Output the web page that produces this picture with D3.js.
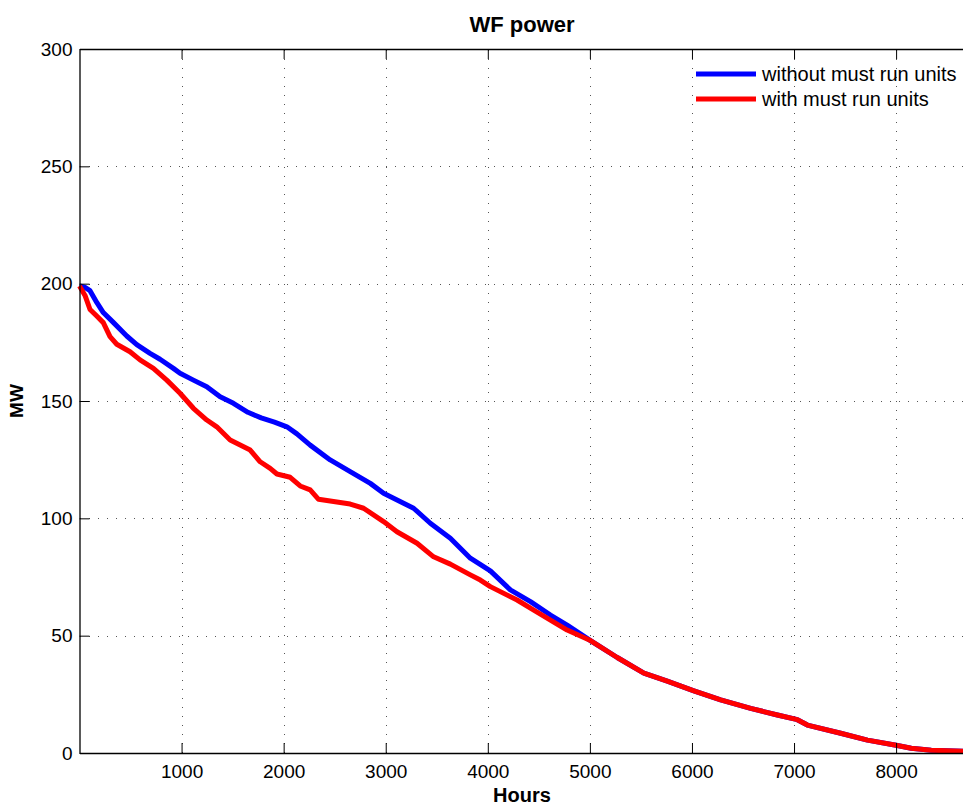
<!DOCTYPE html>
<html>
<head>
<meta charset="utf-8">
<script src="https://cdn.jsdelivr.net/npm/d3@7"></script>
<style>
    body { margin: 0; background: #fff; }
    svg { display: block; font-family: "Liberation Sans", Arial, Helvetica, sans-serif; }
</style>
</head>
<body>
<div id="chart"></div>
<script>
const width = 963;
const height = 806;

// Hours / MW
const withoutHours = [0, 50, 103, 169, 233, 331, 463, 561, 691, 789, 920, 985, 1116, 1247, 1378, 1508, 1650, 1780, 1910, 2032, 2130, 2260, 2456, 2652, 2849, 2979, 3175, 3273, 3437, 3633, 3829, 4025, 4221, 4418, 4614, 4777];
const withoutMW = [199, 198.5, 197, 192, 187.7, 183.5, 177.7, 174, 170.3, 167.8, 163.9, 161.8, 158.9, 156.1, 151.8, 149.0, 145.2, 142.8, 141.0, 139.0, 136.0, 131.2, 124.9, 119.9, 114.9, 110.7, 106.4, 104.3, 97.9, 91.5, 83.0, 77.6, 69.5, 64.5, 58.8, 54.5];

const withHours = [0, 54, 103, 169, 233, 299, 365, 495, 593, 724, 855, 985, 1116, 1247, 1345, 1476, 1672, 1770, 1868, 1934, 2064, 2162, 2260, 2342, 2652, 2783, 2979, 3110, 3307, 3469, 3633, 3829, 3927, 4025, 4287, 4450, 4777];
const withMW = [199, 195, 189, 186.2, 183.4, 177.4, 174.2, 171, 167.5, 163.9, 158.9, 153.3, 146.9, 141.9, 139, 133.4, 129.1, 124.1, 121.3, 118.9, 117.5, 113.8, 112.1, 108.1, 106.1, 104.3, 98.6, 94.3, 89.4, 83.6, 80.5, 75.9, 73.7, 70.9, 65.2, 60.9, 52.4];

// both curves coincide from ~5000 h on
const tailHours = [5006, 5268, 5529, 5758, 6019, 6281, 6575, 6837, 7033, 7131, 7457, 7719, 8000, 8148, 8344, 8670];
const tailMW = [47.9, 40.7, 34.0, 30.6, 26.5, 22.6, 19.0, 16.2, 14.2, 11.9, 8.4, 5.5, 3.3, 2.0, 1.2, 0.7];

const xTicks = [1000, 2000, 3000, 4000, 5000, 6000, 7000, 8000];
const yTicks = [0, 50, 100, 150, 200, 250, 300];

const series = [
    { name: "without must run units", color: "#0000ff", hours: withoutHours.concat(tailHours), mw: withoutMW.concat(tailMW) },
    { name: "with must run units", color: "#ff0000", hours: withHours.concat(tailHours), mw: withMW.concat(tailMW) }
];

const plot = { left: 79.5, right: 964.5, top: 49, bottom: 753 };

const x = d3.scaleLinear().domain([0, 8670]).range([plot.left, plot.right]);
const y = d3.scaleLinear().domain([0, 300]).range([plot.bottom, plot.top]);

const svg = d3.select("#chart")
    .append("svg")
    .attr("width", width)
    .attr("height", height);

svg.append("rect").attr("width", width).attr("height", height).attr("fill", "#fff");

// grid
const grid = svg.append("g")
    .attr("stroke", "#555")
    .attr("stroke-width", 1)
    .attr("stroke-dasharray", "1,8")
    .attr("shape-rendering", "crispEdges");

grid.selectAll(".vx")
    .data(xTicks)
    .join("line")
    .attr("x1", d => Math.round(x(d)) + 0.5)
    .attr("x2", d => Math.round(x(d)) + 0.5)
    .attr("y1", plot.bottom)
    .attr("y2", plot.top);

grid.selectAll(".hy")
    .data(yTicks.filter(d => d > 0 && d < 300))
    .join("line")
    .attr("x1", plot.left)
    .attr("x2", plot.right)
    .attr("y1", d => Math.round(y(d)) + 0.5)
    .attr("y2", d => Math.round(y(d)) + 0.5);

// data lines
const line = d3.line()
    .x(d => x(d[0]))
    .y(d => y(d[1]));

svg.append("g")
    .selectAll("path")
    .data(series)
    .join("path")
    .attr("fill", "none")
    .attr("stroke", d => d.color)
    .attr("stroke-width", 5)
    .attr("stroke-linejoin", "round")
    .attr("d", d => line(d.hours.map((h, i) => [h, d.mw[i]])));

// axes (MATLAB style ticks pointing inward)
const fmt = d3.format("d");

const bottomAxis = svg.append("g")
    .attr("transform", `translate(0,${plot.bottom})`)
    .call(d3.axisBottom(x).tickValues(xTicks).tickSizeInner(-10).tickSizeOuter(0).tickPadding(12).tickFormat(fmt));

const topAxis = svg.append("g")
    .attr("transform", `translate(0,${plot.top})`)
    .call(d3.axisTop(x).tickValues(xTicks).tickSizeInner(-10).tickSizeOuter(0).tickFormat(""));

const leftAxis = svg.append("g")
    .attr("transform", `translate(${plot.left},0)`)
    .call(d3.axisLeft(y).tickValues(yTicks).tickSizeInner(-10).tickSizeOuter(0).tickPadding(7).tickFormat(fmt));

[bottomAxis, topAxis, leftAxis].forEach(a => {
    a.select(".domain").attr("stroke", "#000").attr("stroke-width", 1.3);
    a.selectAll(".tick line").attr("stroke", "#000");
    a.selectAll("text").attr("fill", "#000").style("font-size", "19px").style("font-family", "Liberation Sans, Arial, sans-serif");
});

// titles
svg.append("text")
    .attr("x", 522)
    .attr("y", 32)
    .attr("text-anchor", "middle")
    .style("font-size", "22px")
    .style("font-weight", "bold")
    .text("WF power");

svg.append("text")
    .attr("x", 522)
    .attr("y", 802)
    .attr("text-anchor", "middle")
    .style("font-size", "20px")
    .style("font-weight", "bold")
    .text("Hours");

svg.append("text")
    .attr("transform", "translate(23,401) rotate(-90)")
    .attr("text-anchor", "middle")
    .style("font-size", "19px")
    .style("font-weight", "bold")
    .text("MW");

// legend
const legend = svg.append("g")
    .selectAll("g")
    .data(series)
    .join("g")
    .attr("transform", (d, i) => `translate(696,${74 + i * 25})`);

legend.append("line")
    .attr("x1", 0)
    .attr("x2", 60)
    .attr("stroke", d => d.color)
    .attr("stroke-width", 5);

legend.append("text")
    .attr("x", 66)
    .attr("dy", "0.35em")
    .style("font-size", "20px")
    .text(d => d.name);
</script>
</body>
</html>
